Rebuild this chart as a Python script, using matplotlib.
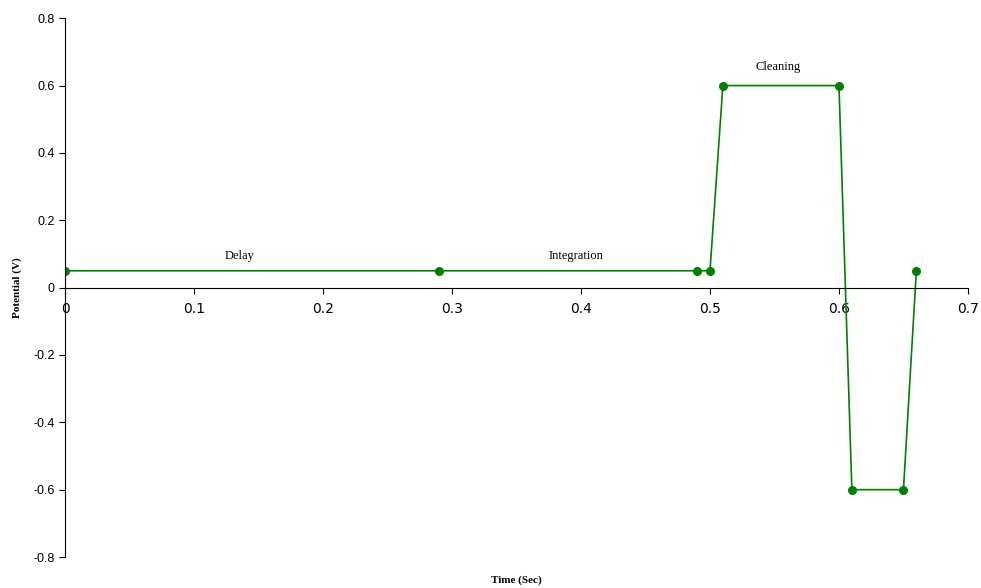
import matplotlib
matplotlib.use('Agg')
import matplotlib.pyplot as plt

time_s = [0, 0.29, 0.49, 0.50, 0.51, 0.60, 0.61, 0.65, 0.66]
potential_v = [0.05, 0.05, 0.05, 0.05, 0.6, 0.6, -0.6, -0.6, 0.05]
phase_names = ['Delay', 'Integration', 'Cleaning']
phase_x = [0.135, 0.396, 0.553]
phase_y = [0.095, 0.095, 0.655]

fig = plt.figure(figsize=(9.81, 5.88), dpi=100)
ax = fig.add_axes([0.0663, 0.0527, 0.9204, 0.9163])
ax.plot(time_s, potential_v, color='#008000', lw=1.2, marker='o', ms=5.5)

for name, x, y in zip(phase_names, phase_x, phase_y):
    ax.text(x, y, name, ha='center', va='center', fontsize=9, family='Liberation Serif')

ax.set_xlim(0, 0.7)
ax.set_ylim(-0.8, 0.8)
ax.set_xticks([0, 0.1, 0.2, 0.3, 0.4, 0.5, 0.6, 0.7])
ax.set_xticklabels(['0', '0.1', '0.2', '0.3', '0.4', '0.5', '0.6', '0.7'])
ax.set_yticks([-0.8, -0.6, -0.4, -0.2, 0, 0.2, 0.4, 0.6, 0.8])
ax.set_yticklabels(['-0.8', '-0.6', '-0.4', '-0.2', '0', '0.2', '0.4', '0.6', '0.8'])
for lbl in ax.get_xticklabels() + ax.get_yticklabels():
    lbl.set_family('Liberation Sans')
    lbl.set_fontsize(9)

ax.spines['top'].set_visible(False)
ax.spines['right'].set_visible(False)
ax.spines['bottom'].set_position(('data', 0))
ax.tick_params(axis='x', direction='out', length=4, pad=6)
ax.tick_params(axis='y', direction='out', length=4)

ax.set_xlabel('Time (Sec)', fontsize=8, fontweight='bold', family='Liberation Serif')
ax.xaxis.set_label_coords(0.5, -0.035)
ax.set_ylabel('Potential (V)', fontsize=8, fontweight='bold', family='Liberation Serif')
ax.yaxis.set_label_coords(-0.048, 0.5)

fig.savefig('out.png', dpi=100)
